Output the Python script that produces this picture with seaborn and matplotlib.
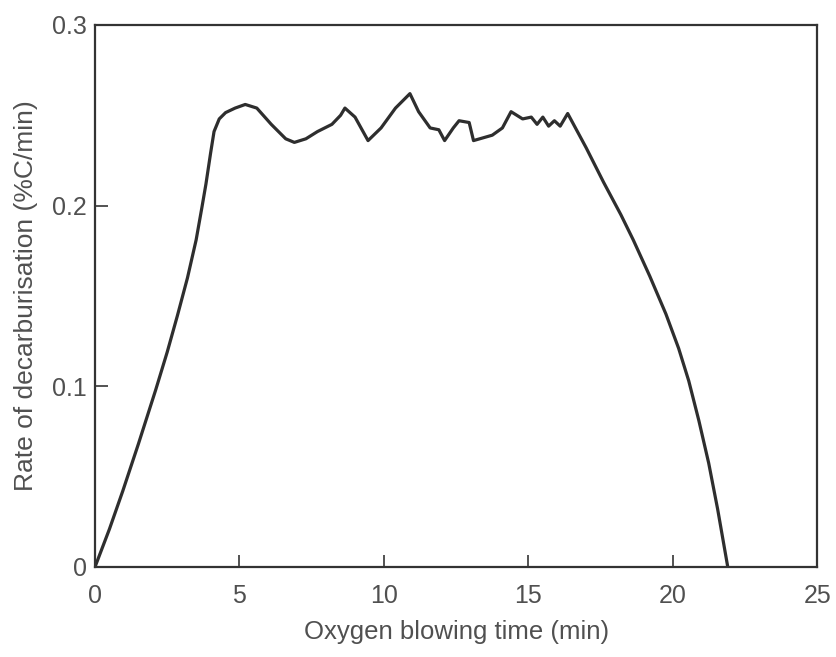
import matplotlib
matplotlib.use("Agg")
import matplotlib.pyplot as plt
import seaborn as sns
import pandas as pd

time_min = [0, 0.5, 0.96, 1.5, 2.1, 2.5, 2.85, 3.2, 3.5, 3.7, 3.84, 4.0, 4.12, 4.3, 4.52,
            4.85, 5.2, 5.6, 6.1, 6.6, 6.9, 7.3, 7.7, 8.2, 8.5, 8.65, 9.0, 9.45, 9.9, 10.4,
            10.9, 11.2, 11.6, 11.9, 12.1, 12.4, 12.6, 12.95, 13.1, 13.75, 14.1, 14.4,
            14.8, 15.1, 15.3, 15.5, 15.7, 15.9, 16.1, 16.36, 17.0, 17.6, 18.2, 18.63,
            19.2, 19.76, 20.2, 20.55, 20.9, 21.24, 21.55, 21.9]
rate = [0, 0.021, 0.042, 0.068, 0.098, 0.119, 0.139, 0.160, 0.181, 0.199, 0.212, 0.229,
        0.241, 0.248, 0.2515, 0.254, 0.256, 0.254, 0.245, 0.237, 0.235, 0.237, 0.241,
        0.245, 0.250, 0.254, 0.249, 0.236, 0.243, 0.254, 0.262, 0.252, 0.243, 0.242,
        0.236, 0.243, 0.247, 0.246, 0.236, 0.239, 0.243, 0.252, 0.248, 0.249, 0.245,
        0.249, 0.244, 0.247, 0.244, 0.251, 0.232, 0.213, 0.195, 0.181, 0.161, 0.140,
        0.121, 0.103, 0.081, 0.0575, 0.032, 0.0]
x_ticks = [0, 5, 10, 15, 20, 25]
x_labels = ["0", "5", "10", "15", "20", "25"]
y_ticks = [0, 0.1, 0.2, 0.3]
y_labels = ["0", "0.1", "0.2", "0.3"]

df = pd.DataFrame({"t": time_min, "r": rate})

sns.set_theme(style="white")
plt.rcParams["font.family"] = ["Liberation Sans", "DejaVu Sans"]

fig = plt.figure(figsize=(8.37, 6.57), dpi=100)
ax = fig.add_axes([0.1135, 0.137, 0.863, 0.825])
sns.lineplot(data=df, x="t", y="r", ax=ax, color="#2e2e2e", linewidth=2.3, sort=False)
ax.lines[0].set_solid_joinstyle("round")

ax.set_xlim(0, 25)
ax.set_ylim(0, 0.3)
ax.set_xticks(x_ticks)
ax.set_xticklabels(x_labels)
ax.set_yticks(y_ticks)
ax.set_yticklabels(y_labels)
ax.tick_params(axis="both", which="major", direction="in", length=9, width=1.3,
               colors="#444444", labelsize=18, labelcolor="#505050",
               bottom=True, left=True, top=False, right=False)
ax.tick_params(axis="x", pad=12)
ax.tick_params(axis="y", pad=6)
ax.set_xlabel("Oxygen blowing time (min)", fontsize=18.5, color="#505050", labelpad=9)
ax.set_ylabel("Rate of decarburisation (%C/min)", fontsize=19, color="#505050", labelpad=10)
for s in ax.spines.values():
    s.set_color("#333333")
    s.set_linewidth(1.6)
    s.set_visible(True)

fig.savefig("out.png", dpi=100, facecolor="white")
